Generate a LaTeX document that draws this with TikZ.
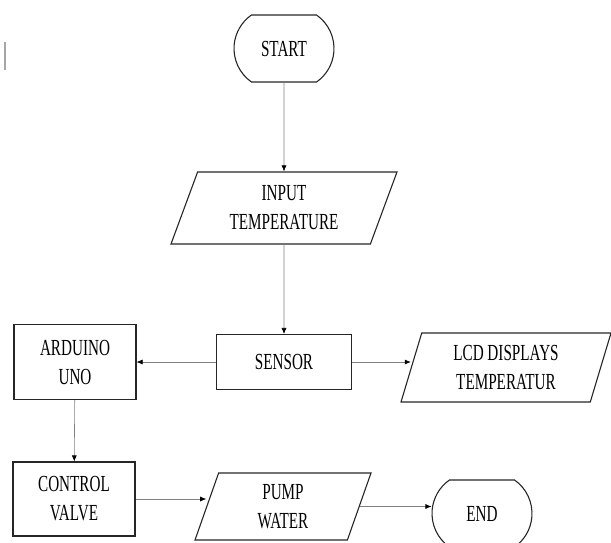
\documentclass[tikz,border=0pt]{standalone}
\usepackage{fontspec}
\setmainfont{Liberation Serif}[FakeStretch=0.66]
\usetikzlibrary{shapes.geometric,shapes.misc,arrows.meta}

\tikzset{
    termbox/.style={draw=black!85, line width=1.1pt, rounded rectangle, rounded rectangle arc length=110,
        minimum width=100pt, minimum height=67pt, inner sep=0pt},
    procbox/.style={draw=black!85, line width=1.1pt, rectangle, align=center, inner sep=0pt},
    iobox/.style={draw=black!85, line width=1.1pt, trapezium, trapezium stretches body, align=center, inner sep=0pt},
    arr/.style={draw=black!50, line width=0.6pt, -{Latex[length=6pt,width=5pt,black]}}
}

\begin{document}
\begin{tikzpicture}[x=1pt, y=-1pt, font=\fontsize{23}{29}\selectfont]
    \useasboundingbox (0,0) rectangle (611,542);
%%   kw   (name)   (x, y)   {text}
    \node[termbox] (start) at (284, 48.5) {START};
    \node[iobox, trapezium left angle=59, trapezium right angle=121, minimum width=226pt, minimum height=72pt] (input) at (284, 208) {INPUT\\TEMPERATURE};
    \node[procbox, minimum width=135pt, minimum height=55pt] (sensor) at (284, 362) {SENSOR};
    \node[procbox, minimum width=122pt, minimum height=75pt] (arduino) at (75, 362) {ARDUINO\\UNO};
    \node[iobox, trapezium left angle=65, trapezium right angle=115, minimum width=210pt, minimum height=69pt] (lcd) at (506, 367.5) {LCD DISPLAYS\\TEMPERATUR};
    \node[procbox, minimum width=122pt, minimum height=74pt] (control) at (74, 499) {CONTROL\\VALVE};
    \node[iobox, trapezium left angle=62, trapezium right angle=118, minimum width=176pt, minimum height=67pt] (pump) at (283, 506.5) {PUMP\\WATER};
    \node[termbox] (end) at (482, 513.5) {END};

    \draw[arr] (start) -- (input);
    \draw[arr] (input) -- (sensor);
    \draw[arr] (sensor) -- (arduino);
    \draw[arr] (sensor.east) -- (sensor.east -| lcd.west);
    \draw[arr] (arduino) -- (control);
    \draw[arr] (control.east) -- (control.east -| pump.west);
    \draw[arr] (pump.east) -- (pump.east -| end.west);

    \draw[black!35, line width=1.2pt] (5,42) -- (5,70);
\end{tikzpicture}
\end{document}
